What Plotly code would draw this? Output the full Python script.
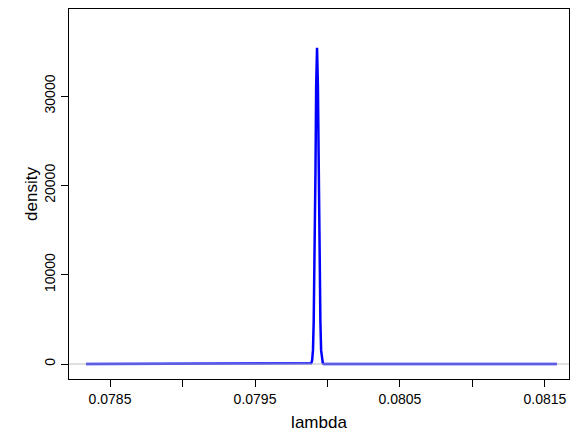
import plotly.graph_objects as go

# density curve
lam = [0.078334, 0.079883, 0.079888, 0.079894, 0.0799, 0.079905, 0.079911, 0.079917,
       0.079922, 0.079928, 0.079934, 0.079939, 0.079945, 0.079951, 0.079956,
       0.079962, 0.079968, 0.079973, 0.081583]
dens = [0, 12, 77, 390, 1550, 4780, 11450, 21400, 31150, 35400, 31150, 21400,
        11450, 4780, 1550, 390, 77, 12, 0]

x_ticks = [0.0785, 0.079, 0.0795, 0.080, 0.0805, 0.081, 0.0815]
x_labels = ["0.0785", "", "0.0795", "", "0.0805", "", "0.0815"]
y_ticks = [0, 10000, 20000, 30000]
y_labels = ["0", "10000", "20000", "30000"]

fig = go.Figure()
fig.add_hline(y=0, line=dict(color="#bebebe", width=1))
fig.add_trace(go.Scatter(x=lam, y=dens, mode="lines",
                         line=dict(color="#0000ff", width=2.5), showlegend=False))

axis_common = dict(showgrid=False, zeroline=False, showline=True, linecolor="black",
                   linewidth=1, mirror=True, ticks="outside", ticklen=7,
                   tickcolor="black", tickfont=dict(size=14, color="black"))
fig.update_layout(
    width=584, height=440, plot_bgcolor="white", paper_bgcolor="white",
    margin=dict(l=61, r=23, t=1, b=69),
    font=dict(family="Liberation Sans, Arial", size=14, color="black"),
    xaxis=dict(range=[0.078217, 0.081666], tickvals=x_ticks, ticktext=x_labels,
               title=dict(text="lambda", standoff=10), **axis_common),
    yaxis=dict(range=[-1680, 39750], tickvals=y_ticks, ticktext=y_labels, tickangle=-90,
               title=dict(text="density", standoff=0), **axis_common),
)
fig.write_html("out.html")
